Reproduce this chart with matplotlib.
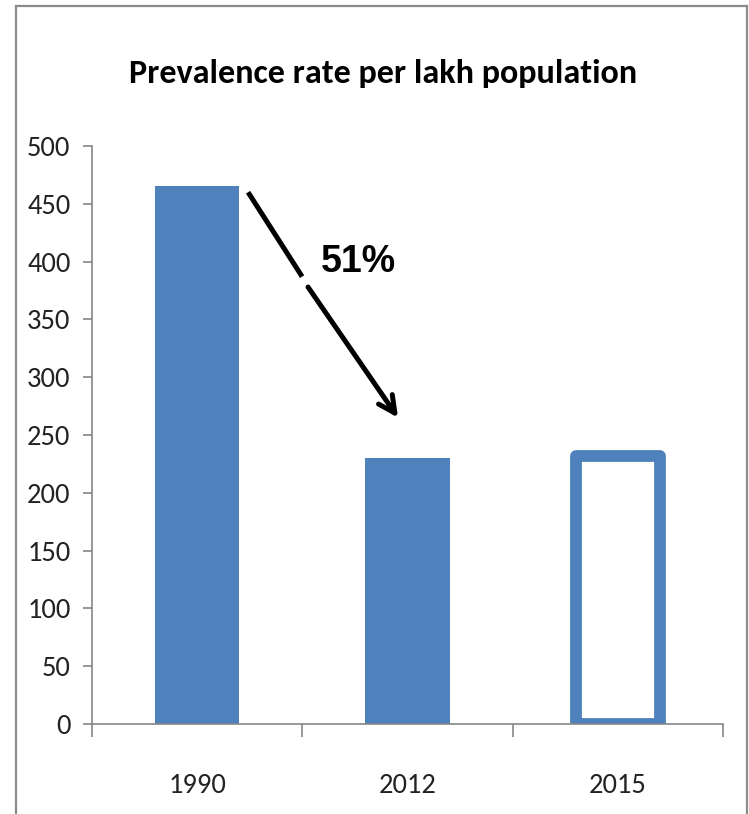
import matplotlib
matplotlib.use('Agg')
import matplotlib.pyplot as plt
from matplotlib.lines import Line2D

years = ['1990', '2012', '2015']
prevalence = [465, 230, 232]
filled = [True, True, False]
drop_label = '51%'

blue = '#4F81BD'
grey = '#868686'
font = ['Carlito', 'DejaVu Sans']

fig = plt.figure(figsize=(7.49, 8.14), dpi=100)
ax = fig.add_axes([92 / 749, 1 - 724 / 814, (723 - 92) / 749, (724 - 146) / 814])

x = list(range(len(years)))
for xi, val, solid in zip(x, prevalence, filled):
    if solid:
        ax.bar(xi, val, width=0.4, color=blue, zorder=2)
    else:
        ax.bar(xi, val, width=0.4, facecolor='white', edgecolor=blue,
               linewidth=8.5, joinstyle='round', zorder=2)

ax.set_xlim(-0.5, 2.5)
ax.set_ylim(0, 500)
ax.set_yticks(range(0, 501, 50))
ax.set_xticks(x)
ax.set_xticklabels(years)
ax.set_xticks([-0.5, 0.5, 1.5, 2.5], minor=True)

for s in ['top', 'right']:
    ax.spines[s].set_visible(False)
for s in ['left', 'bottom']:
    ax.spines[s].set_color(grey)
    ax.spines[s].set_linewidth(1.2)
ax.tick_params(axis='y', length=6.5, width=1.2, color=grey, pad=9,
               labelsize=20.5, labelcolor='#222222', labelfontfamily=font)
ax.tick_params(axis='x', which='major', length=0, pad=35,
               labelsize=20.5, labelcolor='#222222', labelfontfamily=font)
ax.tick_params(axis='x', which='minor', length=9, width=1.2, color=grey)

# arrow showing the drop, broken where the label sits
ax.plot([0.242, 0.499], [460, 387], color='black', lw=3.6,
        solid_capstyle='butt', zorder=3)
ax.annotate('', xy=(0.955, 265), xytext=(0.527, 378),
            arrowprops=dict(arrowstyle='->', color='black', lw=3.6,
                            mutation_scale=30, shrinkA=0, shrinkB=0))
ax.text(0.59, 400, drop_label, fontsize=27, fontweight='bold',
        family='Liberation Sans', ha='left', va='center')

fig.text(383 / 749, 1 - 74 / 814, 'Prevalence rate per lakh population',
         fontsize=24.6, fontweight='bold', family=font, ha='center', va='center')

# chart frame
frame = dict(color='#8c8c8c', lw=1.6, transform=fig.transFigure)
fig.add_artist(Line2D([16 / 749, 16 / 749], [0, 1 - 6 / 814], **frame))
fig.add_artist(Line2D([16 / 749, 747 / 749], [1 - 6 / 814, 1 - 6 / 814], **frame))
fig.add_artist(Line2D([747 / 749, 747 / 749], [0, 1 - 6 / 814], **frame))

fig.savefig('out.png', dpi=100)
